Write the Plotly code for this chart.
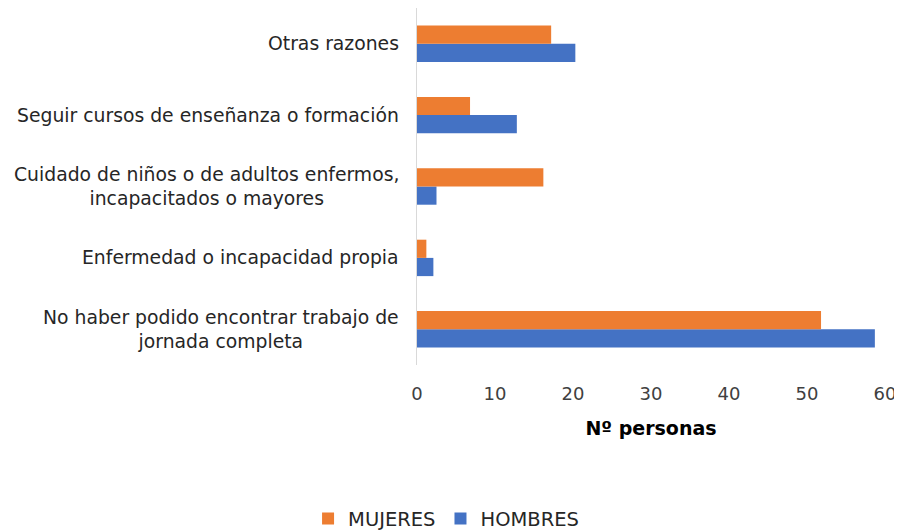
import plotly.graph_objects as go

categories = [
    "No haber podido encontrar trabajo de<br>jornada completa",
    "Enfermedad o incapacidad propia",
    "Cuidado de niños o de adultos enfermos,<br>incapacitados o mayores",
    "Seguir cursos de enseñanza o formación",
    "Otras razones",
]
hombres = [58.7, 2.1, 2.5, 12.8, 20.3]
mujeres = [51.8, 1.2, 16.2, 6.8, 17.2]
x_ticks = [0, 10, 20, 30, 40, 50, 60]

FONT = "DejaVu Sans"
TXT = "#262626"

fig = go.Figure()
fig.add_trace(go.Bar(y=categories, x=hombres, orientation="h", name="HOMBRES",
                     marker=dict(color="#4472C4", line=dict(width=0))))
fig.add_trace(go.Bar(y=categories, x=mujeres, orientation="h", name="MUJERES",
                     marker=dict(color="#ED7D31", line=dict(width=0))))

for c in categories:
    fig.add_annotation(x=0, xref="paper", y=c, yref="y", text=c, showarrow=False,
                       xanchor="right", align="center", xshift=-16,
                       font=dict(family=FONT, size=18.8, color=TXT))

# page body has an 8px margin: figure occupies x 8..902, y 8..532
fig.update_layout(
    width=894, height=524,
    margin=dict(l=409, r=17, t=0, b=167, autoexpand=False),
    paper_bgcolor="white", plot_bgcolor="white",
    barmode="group", bargap=0.49, bargroupgap=0,
    font=dict(family=FONT, size=18, color=TXT),
    showlegend=True,
    legend=dict(orientation="h", x=0.49, xref="container", xanchor="center",
                y=-0.431, yref="paper", yanchor="middle",
                traceorder="reversed", font=dict(size=19.5, color=TXT)),
    xaxis=dict(range=[0, 60], tickvals=x_ticks, showgrid=False, zeroline=False,
               showline=False, ticks="", ticklabelstandoff=16, automargin=False,
               tickfont=dict(size=18, color="#404040"),
               title=dict(text="<b>Nº personas</b>", standoff=18,
                          font=dict(size=19, color="#000000"))),
    yaxis=dict(showticklabels=False, showgrid=False, zeroline=False, automargin=False,
               showline=True, linecolor="#D9D9D9", linewidth=1, ticks=""),
)

fig.write_html("out.html")
